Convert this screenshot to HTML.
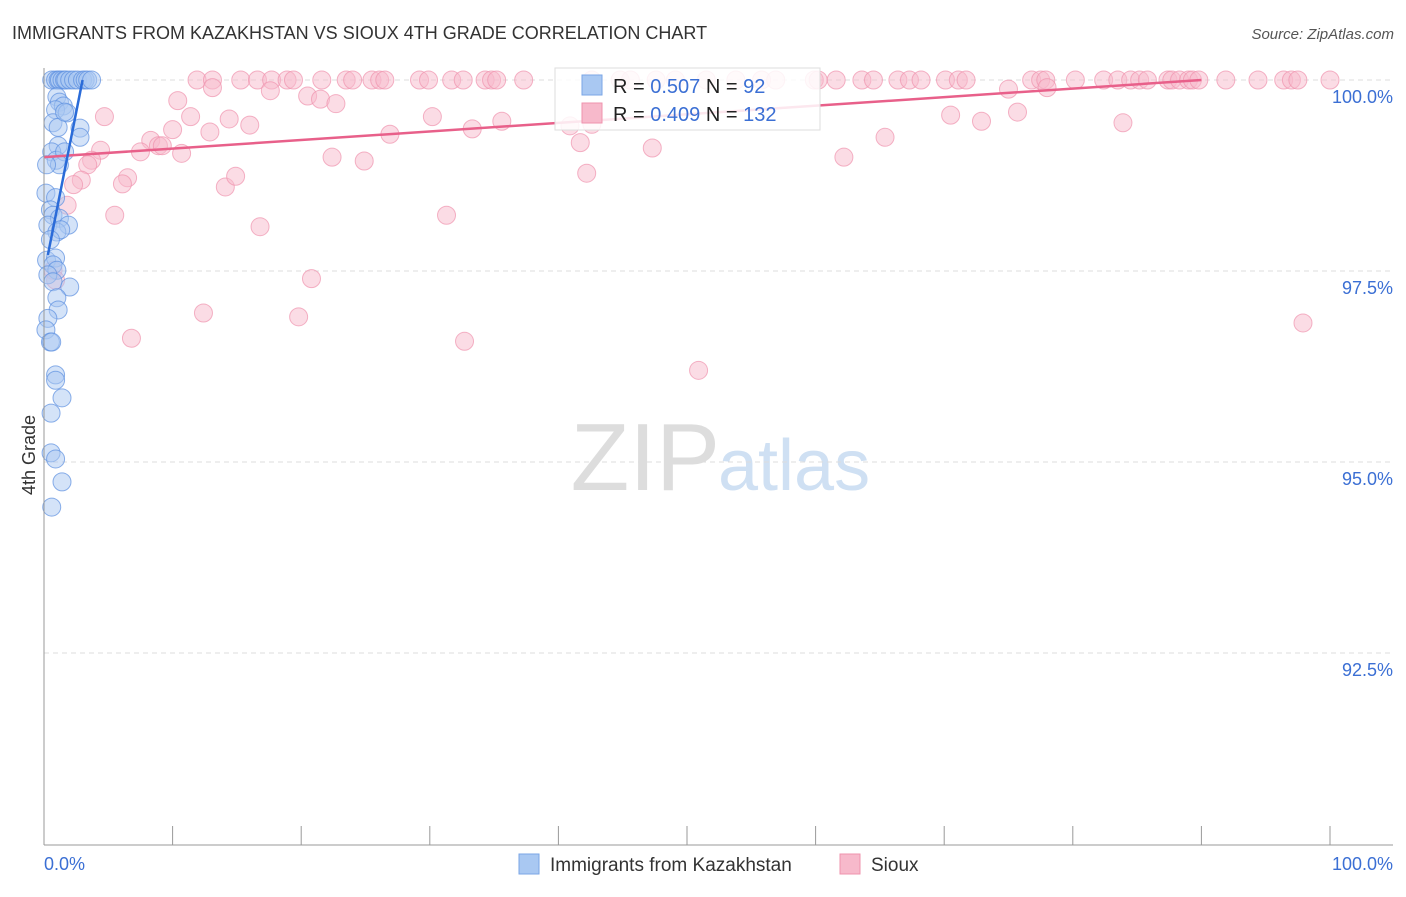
<!DOCTYPE html>
<html><head><meta charset="utf-8"><style>
body{margin:0;background:#fff;font-family:"Liberation Sans",sans-serif}
svg text{font-family:"Liberation Sans",sans-serif}
</style></head><body>
<svg id="c" width="1406" height="892">
<text x="12" y="39" font-size="18" fill="#333">IMMIGRANTS FROM KAZAKHSTAN VS SIOUX 4TH GRADE CORRELATION CHART</text>
<text x="1394" y="39" font-size="15" fill="#555" font-style="italic" text-anchor="end">Source: ZipAtlas.com</text>
<text x="720" y="490" font-size="96" fill="#ddd" font-family="Liberation Serif" text-anchor="end">ZIP</text>
<text x="718" y="490" font-size="72" fill="#cfe0f3">atlas</text>
<g id="grid"></g><g id="pts"></g><g id="lines"></g>
<line x1="44" y1="68" x2="44" y2="845" stroke="#999"/>
<line x1="44" y1="845" x2="1393" y2="845" stroke="#999"/>
<text x="35" y="455" font-size="18" fill="#333" text-anchor="middle" transform="rotate(-90 35 455)">4th Grade</text>
<text x="44" y="870" font-size="18" fill="#3b6fd4">0.0%</text>
<text x="1393" y="870" font-size="18" fill="#3b6fd4" text-anchor="end">100.0%</text>
<g>
<rect x="555" y="68" width="265" height="62" fill="#fff" fill-opacity="0.85" stroke="#ddd"/>
<rect x="582" y="75" width="20" height="20" fill="#a9c8f2" stroke="#7aa6e6"/>
<rect x="582" y="103" width="20" height="20" fill="#f7b9cb" stroke="#ef93ae"/>
<text x="613" y="93" font-size="20" fill="#222">R = <tspan fill="#3b6fd4">0.507</tspan>   N = <tspan fill="#3b6fd4">  92</tspan></text>
<text x="613" y="121" font-size="20" fill="#222">R = <tspan fill="#3b6fd4">0.409</tspan>   N = <tspan fill="#3b6fd4">132</tspan></text>
</g>
<g>
<rect x="519" y="854" width="20" height="20" fill="#a9c8f2" stroke="#7aa6e6"/>
<text x="550" y="871" font-size="19" fill="#333">Immigrants from Kazakhstan</text>
<rect x="840" y="854" width="20" height="20" fill="#f7b9cb" stroke="#ef93ae"/>
<text x="871" y="871" font-size="19" fill="#333">Sioux</text>
</g>
</svg>
<script>
const blueX=[0.6,0.9,1.1,1.2,1.4,1.6,1.7,2.0,2.3,2.6,3.0,3.2,3.4,3.7,1.0,1.2,1.5,0.9,1.8,0.7,1.1,1.6,2.8,2.8,1.1,0.6,0.95,1.6,1.2,0.2,0.15,0.9,0.5,0.7,1.2,1.9,0.3,1.0,1.3,0.5,0.2,0.9,0.7,1.0,0.3,0.7,2.0,1.0,1.1,0.3,0.15,0.5,0.6,0.9,0.9,1.4,0.55,0.55,0.9,1.4,0.6];
const blueY=[100,100,100,100,100,100,100,100,100,100,100,100,100,100,99.78,99.71,99.66,99.61,99.57,99.44,99.38,99.58,99.37,99.25,99.14,99.06,98.95,99.06,98.89,98.89,98.52,98.46,98.30,98.23,98.19,98.10,98.10,98.01,98.04,97.91,97.64,97.67,97.58,97.51,97.45,97.36,97.29,97.15,96.99,96.88,96.73,96.57,96.57,96.14,96.07,95.84,95.64,95.12,95.04,94.74,94.41];
const pinkX=[11.9,13.1,15.3,16.6,17.7,18.9,19.4,21.6,23.5,24.0,25.5,26.1,26.5,29.2,29.9,31.7,32.6,34.3,34.8,35.2,37.3,42.6,44.8,45.6,47.6,49.1,51.5,53.8,55.8,56.9,59.9,60.2,61.6,63.6,64.5,66.4,67.3,68.2,70.1,71.1,71.7,76.8,77.5,77.9,80.2,82.4,83.5,84.5,85.2,85.8,87.4,87.7,88.3,89.0,89.3,89.8,91.9,94.4,96.4,97.0,97.5,100,
4.7,10.4,13.1,17.6,20.5,21.5,22.7,11.4,14.4,16.0,12.9,10.0,8.3,6.5,7.5,8.9,9.2,10.7,4.4,3.7,3.4,2.9,2.3,1.8,6.1,14.1,14.9,5.5,16.8,22.4,24.9,26.9,30.2,33.3,35.6,40.9,42.6,41.7,42.2,47.3,31.3,20.8,19.8,12.4,6.8,32.7,50.9,62.2,65.4,70.5,72.9,75.0,75.7,78.0,83.9,97.9,0.7,0.9];
const pinkY=[100,100,100,100,100,100,100,100,100,100,100,100,100,100,100,100,100,100,100,100,100,100,100,100,100,100,100,100,100,100,100,100,100,100,100,100,100,100,100,100,100,100,100,100,100,100,100,100,100,100,100,100,100,100,100,100,100,100,100,100,100,100,
99.52,99.73,99.9,99.86,99.79,99.75,99.69,99.52,99.49,99.41,99.32,99.35,99.21,98.72,99.06,99.14,99.14,99.04,99.08,98.95,98.89,98.69,98.63,98.36,98.64,98.6,98.74,98.23,98.08,98.99,98.94,99.29,99.52,99.36,99.46,99.4,99.42,99.18,98.78,99.11,98.23,97.4,96.9,96.95,96.62,96.58,96.2,98.99,99.25,99.54,99.46,99.88,99.58,99.9,99.44,96.82,97.51,97.38];
const yTicks=[100,97.5,95,92.5];
const yTickLabels=["100.0%","97.5%","95.0%","92.5%"];
const xTicks=[0,10,20,30,40,50,60,70,80,90,100];
const blueTrend=[[0.3,97.71],[3.0,100]];
const pinkTrend=[[0,98.99],[90,100]];
const sx=v=>44+v*12.86, sy=v=>80+(100-v)*76.4;
const NS="http://www.w3.org/2000/svg";
function mk(t,a,p){const e=document.createElementNS(NS,t);for(const k in a)e.setAttribute(k,a[k]);p.appendChild(e);return e;}
const grid=document.getElementById('grid');
yTicks.forEach((v,i)=>{
 const l=mk('line',{x1:44,x2:1393,y1:sy(v),y2:sy(v),stroke:'#ddd','stroke-dasharray':'5,4'},grid);
 
 
 const t=mk('text',{x:1393,y:sy(v)+23,'font-size':18,fill:'#3b6fd4','text-anchor':'end'},grid);
 t.textContent=yTickLabels[i];
 
 
});
xTicks.forEach(v=>{
 const l=mk('line',{x1:sx(v),x2:sx(v),y1:826,y2:845,stroke:'#999'},grid);
 
 
});
const pts=document.getElementById('pts');
pinkX.forEach((x,i)=>{
 const c=mk('circle',{cx:sx(x),cy:sy(pinkY[i]),r:9,fill:'#f7b9cb','fill-opacity':0.5,stroke:'#ef93ae','stroke-opacity':0.7},pts);
 
 
});
blueX.forEach((x,i)=>{
 const c=mk('circle',{cx:sx(x),cy:sy(blueY[i]),r:9,fill:'#a9c8f2','fill-opacity':0.5,stroke:'#5b8fe0','stroke-opacity':0.7},pts);
 
 
});
const lines=document.getElementById('lines');
const pl=mk('line',{x1:sx(pinkTrend[0][0]),y1:sy(pinkTrend[0][1]),x2:sx(pinkTrend[1][0]),y2:sy(pinkTrend[1][1]),stroke:'#e8608a','stroke-width':2.5},lines);


const bl=mk('line',{x1:sx(blueTrend[0][0]),y1:sy(blueTrend[0][1]),x2:sx(blueTrend[1][0]),y2:sy(blueTrend[1][1]),stroke:'#2a6bd8','stroke-width':2.5},lines);


</script>
</body></html>
